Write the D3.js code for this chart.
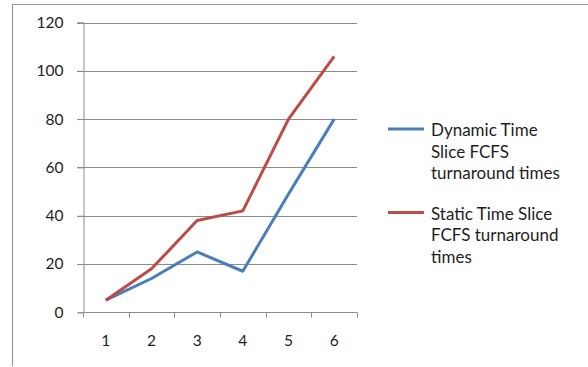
<!DOCTYPE html>
<html>
<head>
<meta charset="utf-8">
<script src="https://cdn.jsdelivr.net/npm/d3@7"></script>
<style>
  html, body { margin: 0; padding: 0; background: #fff; }
  svg { display: block; }
  text { font-family: Lato, "Open Sans", sans-serif; fill: #1e1e1e; }
</style>
</head>
<body>
<svg id="chart" width="588" height="367"></svg>
<script>
// Turnaround times per process
const categories = ["1", "2", "3", "4", "5", "6"];
const dynamicTimes = [5, 14, 25, 17, 49, 80];
const staticTimes = [5, 18, 38, 42, 80, 106];
const yTicks = [0, 20, 40, 60, 80, 100, 120];
const seriesNames = [
  ["Dynamic Time", "Slice FCFS", "turnaround times"],
  ["Static Time Slice", "FCFS turnaround", "times"]
];
const seriesColors = ["#4a7ebb", "#be4b48"];

const svg = d3.select("#chart");

// outer frame (left and top edges)
svg.append("path")
  .attr("d", "M12.5,366 V4.5 H588")
  .attr("fill", "none")
  .attr("stroke", "#9a9a9a")
  .attr("stroke-width", 1.2);

const plot = { left: 83, right: 357, top: 22.5, bottom: 312.3 };

const x = d3.scaleBand().domain(categories).range([plot.left, plot.right]);
const y = d3.scaleLinear().domain([0, 120]).range([plot.bottom, plot.top]);

// horizontal gridlines
svg.append("g")
  .selectAll("line")
  .data(yTicks.filter(d => d > 0))
  .join("line")
  .attr("x1", plot.left - 6).attr("x2", plot.right)
  .attr("y1", d => Math.round(y(d)) + 0.5).attr("y2", d => Math.round(y(d)) + 0.5)
  .attr("stroke", "#8c8c8c").attr("stroke-width", 1);

// y axis
const yAxis = svg.append("g")
  .attr("transform", `translate(${plot.left + 0.5},0)`)
  .call(d3.axisLeft(y).tickValues(yTicks).tickSize(6).tickPadding(14));
yAxis.select(".domain").attr("stroke", "#8c8c8c");
yAxis.selectAll(".tick line").attr("stroke", "#8c8c8c");
yAxis.selectAll("text").style("font-size", "15.5px").attr("fill", "#1e1e1e");

// x axis with ticks on category boundaries
const xAxisG = svg.append("g")
  .attr("transform", `translate(0,${Math.round(plot.bottom) + 0.5})`);
xAxisG.append("line")
  .attr("x1", plot.left).attr("x2", plot.right)
  .attr("stroke", "#8c8c8c");
const boundaries = categories.map(c => x(c)).concat([x(categories[categories.length - 1]) + x.bandwidth()]);
xAxisG.selectAll("line.tk")
  .data(boundaries)
  .join("line")
  .attr("class", "tk")
  .attr("x1", d => Math.round(d) + 0.5).attr("x2", d => Math.round(d) + 0.5)
  .attr("y1", 0).attr("y2", 5)
  .attr("stroke", "#8c8c8c");
xAxisG.selectAll("text")
  .data(categories)
  .join("text")
  .attr("x", d => x(d) + x.bandwidth() / 2)
  .attr("y", 33)
  .attr("text-anchor", "middle")
  .style("font-size", "15.5px")
  .text(d => d);

// series lines
const line = d3.line()
  .x((d, i) => x(categories[i]) + x.bandwidth() / 2)
  .y(d => y(d));

[dynamicTimes, staticTimes].forEach((vals, i) => {
  svg.append("path")
    .datum(vals)
    .attr("d", line)
    .attr("fill", "none")
    .attr("stroke", seriesColors[i])
    .attr("stroke-width", 3)
    .attr("stroke-linejoin", "round");
});

// legend
const legendTop = [129, 212.5];
seriesNames.forEach((lines, i) => {
  const g = svg.append("g").attr("transform", `translate(0,${legendTop[i]})`);
  g.append("line")
    .attr("x1", 388).attr("x2", 424)
    .attr("y1", 0).attr("y2", 0)
    .attr("stroke", seriesColors[i]).attr("stroke-width", 3);
  lines.forEach((t, j) => {
    g.append("text")
      .attr("x", 431)
      .attr("y", j * 21.5 + 7)
      .style("font-size", "17px")
      .text(t);
  });
});
</script>
</body>
</html>
